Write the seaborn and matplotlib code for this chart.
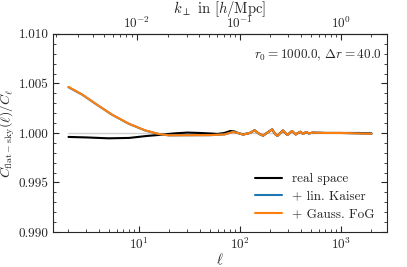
import numpy as np
import pandas as pd
import matplotlib
matplotlib.use("Agg")
import matplotlib.pyplot as plt
from matplotlib.ticker import FormatStrFormatter, MultipleLocator
import seaborn as sns

# ---- data ----
ell_real = [2, 3, 5, 8, 12, 17, 22, 30, 40, 50, 60, 70, 80, 88, 95, 107, 125, 139, 155, 169,
            190, 208, 222, 234, 250, 266, 280, 294, 310, 327, 342, 356, 375, 396, 420, 450,
            480, 520, 700, 1000, 1500, 2000]
ratio_real = [0.99960, 0.99955, 0.99946, 0.99950, 0.99970, 0.99983, 0.99995, 1.00004, 1.00000,
              0.99995, 0.99990, 1.00000, 1.00020, 1.00015, 1.00000, 0.99985, 1.00000, 1.00027,
              0.99990, 0.99973, 1.00010, 1.00036, 0.99990, 0.99970, 1.00000, 1.00025, 1.00000,
              0.99980, 1.00000, 1.00020, 1.00000, 0.99985, 1.00000, 1.00012, 0.99990, 1.00010,
              0.99995, 1.00003, 1.00000, 1.00000, 1.00000, 0.99995]

ell_rsd = [2, 2.75, 3.7, 5.4, 7.9, 11.5, 15.6, 19.6, 30, 50, 70, 85, 95, 107, 125, 139, 155,
           169, 190, 208, 222, 234, 250, 266, 280, 294, 310, 327, 342, 356, 375, 396, 420,
           450, 480, 520, 700, 1000, 1500, 2000]
ratio_kaiser = [1.00462, 1.00385, 1.00295, 1.00184, 1.00093, 1.00025, 0.99990, 0.99976, 0.99977,
                0.99978, 0.99985, 1.00010, 1.00000, 0.99983, 1.00000, 1.00027, 0.99990, 0.99973,
                1.00010, 1.00036, 0.99990, 0.99970, 1.00000, 1.00025, 1.00000, 0.99980, 1.00000,
                1.00020, 1.00000, 0.99985, 1.00000, 1.00012, 0.99990, 1.00010, 0.99995, 1.00003,
                1.00000, 1.00000, 0.99995, 0.99992]
ratio_fog = [1.00465, 1.00387, 1.00296, 1.00185, 1.00094, 1.00026, 0.99990, 0.99976, 0.99977,
             0.99978, 0.99985, 1.00010, 1.00000, 0.99983, 1.00000, 1.00027, 0.99990, 0.99973,
             1.00010, 1.00036, 0.99990, 0.99970, 1.00000, 1.00025, 1.00000, 0.99980, 1.00000,
             1.00020, 1.00000, 0.99985, 1.00000, 1.00012, 0.99990, 1.00010, 0.99995, 1.00003,
             1.00000, 1.00000, 0.99995, 0.99992]

ref_ell = [2, 2000]
ref_val = [1.0, 1.0]

labels = ["real space", "+ lin. Kaiser", "+ Gauss. FoG"]
r0 = 1000.0
dr = 40.0

sns.set_style("ticks")
plt.rcParams["font.family"] = ["cmr10", "DejaVu Serif"]
plt.rcParams["mathtext.fontset"] = "cm"
plt.rcParams["axes.formatter.use_mathtext"] = True
plt.rcParams["font.size"] = 9.5
plt.rcParams["axes.unicode_minus"] = False

fig = plt.figure(figsize=(4.07, 2.67), dpi=100)
ax = fig.add_axes([0.131, 0.131, 0.819, 0.742])
ax.set_xscale("log")

sns.lineplot(x=ref_ell, y=ref_val, ax=ax, color="#d0d0d0", lw=1.0, zorder=1)
sns.lineplot(x=ell_real, y=ratio_real, ax=ax, color="black", lw=1.5, label=labels[0], zorder=3)
sns.lineplot(x=ell_rsd, y=ratio_kaiser, ax=ax, color="#1f77b4", lw=1.5, label=labels[1], zorder=4)
sns.lineplot(x=ell_rsd, y=ratio_fog, ax=ax, color="#ff7f0e", lw=1.5, label=labels[2], zorder=5)

ax.set_ylim(0.990, 1.010)
ax.yaxis.set_major_locator(MultipleLocator(0.005))
ax.yaxis.set_minor_locator(MultipleLocator(0.001))
ax.yaxis.set_major_formatter(FormatStrFormatter("%.3f"))
ax.set_xlabel(r"$\ell$", fontsize=10.5, labelpad=0)
ax.set_ylabel(r"$C_{\mathrm{flat-sky}}(\ell)/C_\ell$", fontsize=10, labelpad=1)

ax.tick_params(which="both", direction="in", top=False, right=True, labelsize=9.5)
ax.tick_params(which="major", length=4, width=0.8, pad=3.5)
ax.tick_params(which="minor", length=2, width=0.6)
for s in ax.spines.values():
    s.set_linewidth(0.8)

secax = ax.secondary_xaxis("top", functions=(lambda l: (l + 0.5) / r0, lambda k: k * r0 - 0.5))
secax.tick_params(which="both", direction="in", labelsize=9.5)
secax.tick_params(which="major", length=4, width=0.8, pad=2)
secax.tick_params(which="minor", length=2, width=0.6)
secax.set_xlabel(r"$k_\perp$ in $[h/\mathrm{Mpc}]$", fontsize=10.5, labelpad=2)

ax.text(0.985, 0.93, r"$r_0 = %.1f$, $\Delta r = %.1f$" % (r0, dr), transform=ax.transAxes,
        ha="right", va="top", fontsize=9.5)

ax.legend(loc="lower right", frameon=False, fontsize=9.5, handlelength=2.0,
          labelspacing=0.4, borderaxespad=0.5)

fig.savefig("out.png", dpi=100)
